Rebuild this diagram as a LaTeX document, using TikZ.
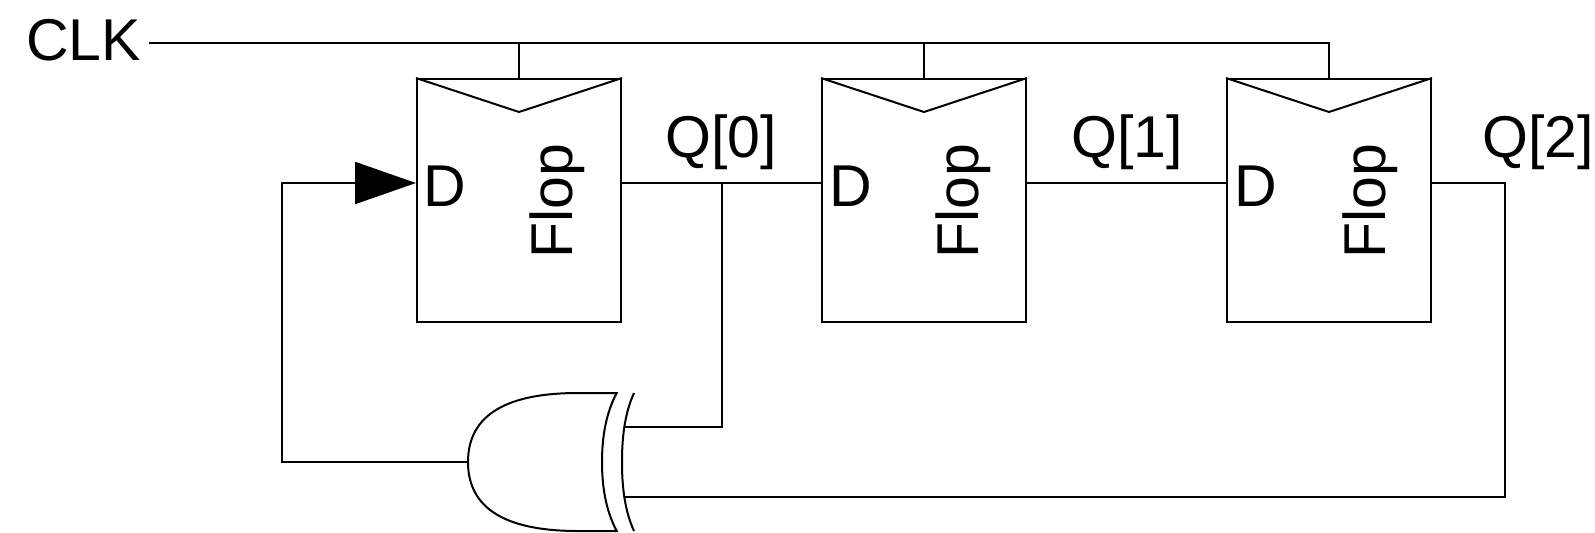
\documentclass[tikz,border=0pt]{standalone}
\usepackage{fontspec}
\setmainfont{Liberation Sans}
\usetikzlibrary{arrows.meta,calc}
\begin{document}
\begin{tikzpicture}[x=0.5pt,y=-0.5pt, line width=1pt,
  flop/.style={draw, rectangle, minimum width=102pt, minimum height=121.5pt, inner sep=0pt},
  lbl/.style={inner sep=0pt, anchor=base west, font=\fontsize{29.5}{32}\selectfont},
  fbarrow/.style={-{Triangle[length=30.5pt,width=21pt]}}]
\useasboundingbox (0,0) rectangle (1595,532);
% flops
\node[flop] (f1) at (519,200.5) {};
\node[flop] (f2) at (924,200.5) {};
\node[flop] (f3) at (1329,200.5) {};
\coordinate (row) at (0,183);
\coordinate (clkrow) at (0,43);
% labels
\node[lbl] (clk) at (25,60) {CLK};
\node[lbl] (d1) at (422,206) {D};
\node[lbl] (d2) at (828,206) {D};
\node[lbl] (d3) at (1233,206) {D};
\node[lbl, rotate=90] (t1) at (572,259.5) {Flop};
\node[lbl, rotate=90] (t2) at (978,259.5) {Flop};
\node[lbl, rotate=90] (t3) at (1385,259.5) {Flop};
\node[lbl] (q0) at (664.5,157) {Q[0]};
\node[lbl] (q1) at (1070.5,157) {Q[1]};
\node[lbl] (q2) at (1481.5,157) {Q[2]};
% clock triangles
\foreach \f in {f1,f2,f3} {
  \draw (\f.north west) -- ([yshift=-17pt]\f.north) -- (\f.north east);
}
% clock net
\draw ([xshift=3.5pt]clk.east |- clkrow) -- (f3.north |- clkrow) -- (f3.north);
\foreach \f in {f1,f2} { \draw (\f.north |- clkrow) -- (\f.north); }
% XOR gate (pointing left)
\coordinate (gout) at (468,462);
\coordinate (gin1) at (623.5,427);
\coordinate (gin2) at (623.5,497);
\draw (616.7,393) -- (578,393) .. controls (508,393) and (468,414) .. (gout)
  .. controls (468,510) and (508,531) .. (578,531) -- (616.7,531)
  .. controls (605,509) and (602,484) .. (602,462)
  .. controls (602,440) and (605,415) .. (616.7,393) -- cycle;
\draw (634,393) .. controls (624,415) and (622,440) .. (622,462)
  .. controls (622,484) and (624,509) .. (634,531);
% data wires
\coordinate (fb) at (282,183);
\coordinate (q0tap) at (722,183);
\coordinate (q2c) at (1505,497);
\draw (f1.east |- row) -- (f2.west |- row);
\draw (f2.east |- row) -- (f3.west |- row);
\draw (f3.east |- row) -| (q2c) -- (gin2);
\draw (gin1) -| (q0tap);
\draw[fbarrow] (gout) -| (fb) -- (f1.west |- row);
\end{tikzpicture}
\end{document}
